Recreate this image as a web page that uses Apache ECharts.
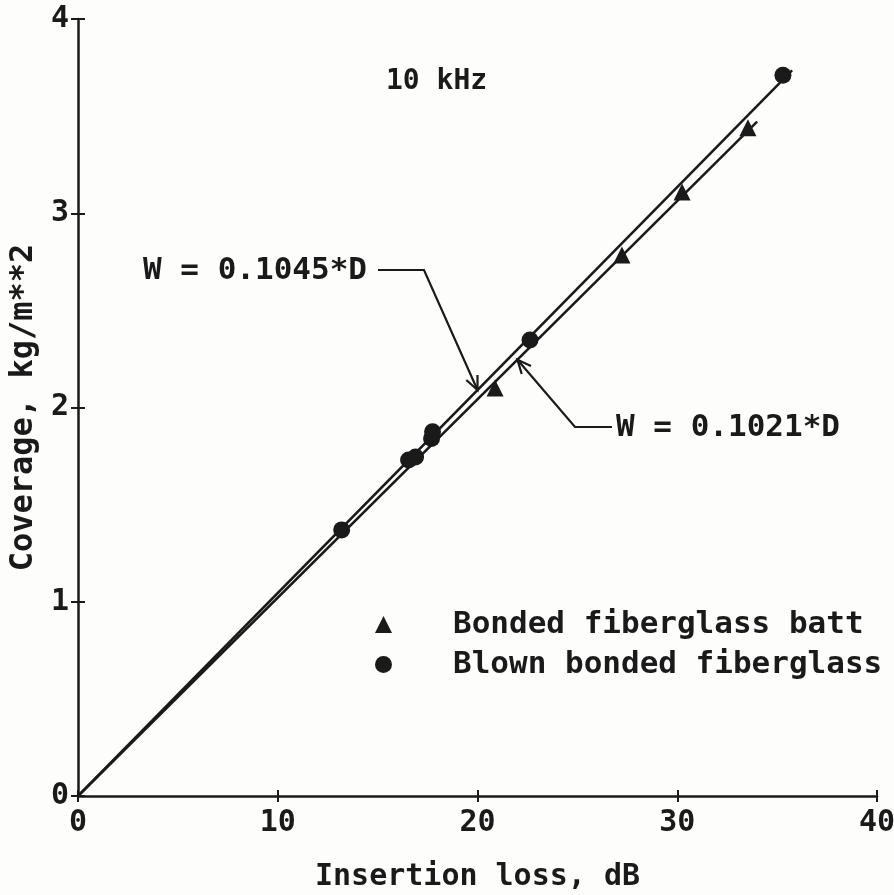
<!DOCTYPE html>
<html>
<head>
<meta charset="utf-8">
<script src="https://cdn.jsdelivr.net/npm/echarts@6/dist/echarts.min.js"></script>
<style>
  html, body { margin: 0; padding: 0; background: #fdfdfb; }
  #chart { width: 894px; height: 895px; }
</style>
</head>
<body>
<div id="chart"></div>
<script>
// Bonded fiberglass batt: insertion loss (dB) vs coverage (kg/m^2)
const battLoss     = [20.88, 27.23, 30.24, 33.54];
const battCoverage = [2.10, 2.785, 3.11, 3.44];

// Blown bonded fiberglass
const blownLoss     = [13.2, 16.55, 16.9, 17.7, 17.75, 22.63, 35.29];
const blownCoverage = [1.37, 1.73, 1.745, 1.84, 1.875, 2.347, 3.71];

// Fitted lines W = k * D, drawn from 0 to the given insertion loss
const fitSlopes = [0.1045, 0.1021];
const fitEnds   = [35.75, 34.0];
const fitLabels = ['W = 0.1045*D', 'W = 0.1021*D'];

const xTicks = [0, 10, 20, 30, 40];
const yTicks = [0, 1, 2, 3, 4];

const INK = '#1a1a1a';
const FONT = 'DejaVu Sans Mono';
const WEIGHT = 'bold';

const chart = echarts.init(document.getElementById('chart'));

function pairs(xs, ys) { return xs.map((x, i) => [x, ys[i]]); }
function fitLine(k, end) { return [[0, 0], [end, k * end]]; }

const axisCommon = {
  type: 'value',
  splitLine: { show: false },
  axisLine: { show: true, onZero: false, lineStyle: { color: INK, width: 2.5 } },
};

const option = {
  backgroundColor: '#fdfdfb',
  animation: false,
  title: {
    text: '10 kHz',
    left: 381, top: 63,
    textStyle: { fontFamily: FONT, fontSize: 28, fontWeight: WEIGHT, color: INK }
  },
  grid: { left: 78, right: 17, top: 19, bottom: 99, containLabel: false, outerBoundsMode: 'none' },
  xAxis: [
    Object.assign({}, axisCommon, {
      min: xTicks[0], max: xTicks[xTicks.length - 1], interval: 10,
      name: 'Insertion loss, dB', nameLocation: 'middle', nameGap: 66,
      nameTextStyle: { fontFamily: FONT, fontSize: 30, fontWeight: WEIGHT, color: INK },
      axisTick: { show: true, length: 6, lineStyle: { color: INK, width: 2 } },
      axisLabel: { margin: 12, fontFamily: FONT, fontSize: 30, fontWeight: WEIGHT, color: INK }
    }),
    Object.assign({}, axisCommon, {
      min: xTicks[0], max: xTicks[xTicks.length - 1], interval: 10,
      position: 'bottom',
      axisLine: { show: false },
      axisTick: { show: true, inside: true, length: 6, lineStyle: { color: INK, width: 2 } },
      axisLabel: { show: false }
    })
  ],
  yAxis: [
    Object.assign({}, axisCommon, {
      min: yTicks[0], max: yTicks[yTicks.length - 1], interval: 1,
      name: 'Coverage, kg/m**2', nameLocation: 'middle', nameGap: 31, nameRotate: 90,
      nameTextStyle: { fontFamily: FONT, fontSize: 32, fontWeight: WEIGHT, color: INK },
      axisTick: { show: true, length: 7, lineStyle: { color: INK, width: 2 } },
      axisLabel: { margin: 9, fontFamily: FONT, fontSize: 30, fontWeight: WEIGHT, color: INK }
    }),
    Object.assign({}, axisCommon, {
      min: yTicks[0], max: yTicks[yTicks.length - 1], interval: 1,
      position: 'left',
      axisLine: { show: false },
      axisTick: { show: true, inside: true, length: 7, lineStyle: { color: INK, width: 2 } },
      axisLabel: { show: false }
    })
  ],
  legend: {
    orient: 'vertical',
    left: 370, top: 604,
    itemWidth: 17, itemHeight: 17, itemGap: 9,
    formatter: name => '   ' + name,
    textStyle: { fontFamily: FONT, fontSize: 31, fontWeight: WEIGHT, color: INK },
    data: ['Bonded fiberglass batt', 'Blown bonded fiberglass']
  },
  series: [
    {
      name: 'fit1', type: 'line', data: fitLine(fitSlopes[0], fitEnds[0]),
      showSymbol: false, symbol: 'none', silent: true,
      lineStyle: { color: INK, width: 2.5 }
    },
    {
      name: 'fit2', type: 'line', data: fitLine(fitSlopes[1], fitEnds[1]),
      showSymbol: false, symbol: 'none', silent: true,
      lineStyle: { color: INK, width: 2.5 }
    },
    {
      name: 'Bonded fiberglass batt', type: 'scatter',
      data: pairs(battLoss, battCoverage),
      symbol: 'triangle', symbolSize: 17,
      itemStyle: { color: INK, opacity: 1 }
    },
    {
      name: 'Blown bonded fiberglass', type: 'scatter',
      data: pairs(blownLoss, blownCoverage),
      symbol: 'circle', symbolSize: 17,
      itemStyle: { color: INK, opacity: 1 }
    }
  ]
};

chart.setOption(option);

// Leader lines with open arrowheads pointing at each fitted line
function arrowHead(tip, from, len, spread) {
  const dx = from[0] - tip[0], dy = from[1] - tip[1];
  const d = Math.hypot(dx, dy);
  const ux = dx / d, uy = dy / d;
  const c = Math.cos(spread), s = Math.sin(spread);
  const a = [tip[0] + len * (ux * c - uy * s), tip[1] + len * (ux * s + uy * c)];
  const b = [tip[0] + len * (ux * c + uy * s), tip[1] + len * (-ux * s + uy * c)];
  return [a, tip, b];
}

const tip1 = chart.convertToPixel({ gridIndex: 0 }, [20.0, fitSlopes[0] * 20.0]);
const tip2 = chart.convertToPixel({ gridIndex: 0 }, [22.0, fitSlopes[1] * 22.0]);
const elbow1 = [424, 270];
const elbow2 = [575, 427];
const lineStyle = { stroke: INK, lineWidth: 2.2, fill: null };
const labelFont = WEIGHT + ' 31px "DejaVu Sans Mono"';

chart.setOption({
  graphic: [
    { type: 'polyline', shape: { points: [[378, 270], elbow1, tip1] }, style: lineStyle },
    { type: 'polyline', shape: { points: arrowHead(tip1, elbow1, 15, 0.42) }, style: lineStyle },
    { type: 'polyline', shape: { points: [[612, 427], elbow2, tip2] }, style: lineStyle },
    { type: 'polyline', shape: { points: arrowHead(tip2, elbow2, 15, 0.42) }, style: lineStyle },
    {
      type: 'text', left: 143, top: 255,
      style: { text: fitLabels[0], font: labelFont, fill: INK }
    },
    {
      type: 'text', left: 616, top: 412,
      style: { text: fitLabels[1], font: labelFont, fill: INK }
    }
  ]
});
</script>
</body>
</html>
